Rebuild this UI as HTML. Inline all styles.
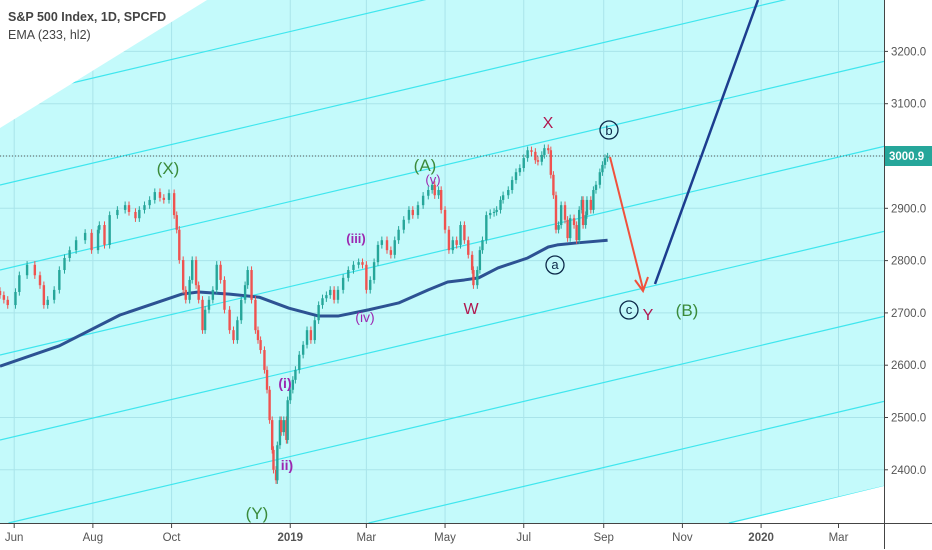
<!DOCTYPE html>
<html><head><meta charset="utf-8"><style>
html,body{margin:0;padding:0;width:932px;height:550px;overflow:hidden;background:#fff;font-family:"Liberation Sans",sans-serif}
svg{display:block;position:absolute;left:0;top:0}
</style></head><body>
<svg id="chart" width="932" height="550" viewBox="0 0 932 550" xmlns="http://www.w3.org/2000/svg">
<rect x="0" y="0" width="884" height="523" fill="#c4fafb"/>
<g id="grid"></g>
<g id="fan"></g>
<polygon points="0,0 207,0 0,128" fill="#fff"/>
<polygon points="733,523 884,486 884,523" fill="#fff"/>
<line x1="0" y1="156" x2="884" y2="156" stroke="#555" stroke-width="1" stroke-dasharray="1,2"/>
<g id="ema"></g>
<g id="candles"></g>
<g id="annot">
<line x1="610" y1="157" x2="643" y2="289" stroke="#f0513c" stroke-width="2"/>
<polyline points="635,280 643,291 648,277" fill="none" stroke="#f0513c" stroke-width="2"/>
<line x1="655" y1="284" x2="758" y2="0" stroke="#1c3d8f" stroke-width="2.5"/>
<text x="168" y="174" font-size="17" fill="#3a8a3a" text-anchor="middle">(X)</text>
<text x="425" y="171" font-size="17" fill="#3a8a3a" text-anchor="middle">(A)</text>
<text x="433" y="184" font-size="13" fill="#9c27b0" text-anchor="middle">(v)</text>
<text x="356" y="243" font-size="13" fill="#9c27b0" font-weight="bold" text-anchor="middle">(iii)</text>
<text x="365" y="322" font-size="14" fill="#9c27b0" text-anchor="middle">(iv)</text>
<text x="285" y="388" font-size="14" fill="#9c27b0" font-weight="bold" text-anchor="middle">(i)</text>
<text x="287" y="470" font-size="14" fill="#9c27b0" font-weight="bold" text-anchor="middle">ii)</text>
<text x="257" y="519" font-size="17" fill="#3a8a3a" text-anchor="middle">(Y)</text>
<text x="471" y="314" font-size="16" fill="#b0174f" text-anchor="middle">W</text>
<text x="548" y="128" font-size="16" fill="#b0174f" text-anchor="middle">X</text>
<text x="648" y="320" font-size="16" fill="#b0174f" text-anchor="middle">Y</text>
<text x="687" y="316" font-size="17" fill="#3a8a3a" text-anchor="middle">(B)</text>
<g><circle cx="609" cy="130" r="9" fill="none" stroke="#0d2a4a" stroke-width="1.3"/><text x="609" y="135" font-size="13" fill="#0d2a4a" text-anchor="middle">b</text></g>
<g><circle cx="555" cy="265" r="9" fill="none" stroke="#0d2a4a" stroke-width="1.3"/><text x="555" y="269" font-size="13" fill="#0d2a4a" text-anchor="middle">a</text></g>
<g><circle cx="629" cy="310" r="9" fill="none" stroke="#0d2a4a" stroke-width="1.3"/><text x="629" y="314" font-size="13" fill="#0d2a4a" text-anchor="middle">c</text></g>
</g>
<text x="8" y="21" font-size="12.5" font-weight="bold" fill="#444">S&amp;P 500 Index, 1D, SPCFD</text>
<text x="8" y="39" font-size="12.5" fill="#444">EMA (233, hl2)</text>
<rect x="884" y="0" width="48" height="549" fill="#fff"/>
<rect x="0" y="523" width="884" height="26" fill="#fff"/>
<line x1="884.5" y1="0" x2="884.5" y2="549" stroke="#444"/>
<line x1="0" y1="523.5" x2="932" y2="523.5" stroke="#444"/>
<g id="axes"></g>
<g><rect x="885" y="146" width="47" height="20" fill="#26a69a"/><text x="889" y="160" font-size="11.5" font-weight="bold" fill="#fff">3000.9</text></g>
</svg>
<script>
const days=[0,3,6,12,15,21,27,31,34,37,42,46,50,54,59,66,71,76,77,81,85,91,97,100,105,108,112,116,120,124,127,131,135,137,139,142,144,147,149,152,154,157,159,162,165,168,171,174,178,181,184,187,190,192,195,198,200,202,205,207,209,211,212,214,215,217,218,220,222,223,225,227,229,232,235,238,241,244,247,250,253,256,259,262,266,270,274,278,281,284,287,290,293,296,300,303,306,309,313,317,320,324,328,332,335,337,340,342,345,348,351,354,357,360,363,366,367,370,372,374,377,380,383,385,388,390,394,397,400,403,406,409,412,415,417,420,422,425,427,429,431,433,435,438,440,442,445,447,449,451,452,454,455,458,460,462,465,467,469,471];
const closes=[2734,2725,2715,2740,2772,2792,2772,2753,2715,2725,2744,2782,2805,2820,2839,2853,2820,2859,2868,2830,2887,2897,2906,2893,2881,2897,2906,2916,2931,2920,2916,2929,2887,2859,2801,2744,2725,2763,2801,2753,2725,2667,2706,2725,2744,2792,2763,2706,2667,2648,2686,2725,2753,2782,2725,2667,2648,2629,2591,2553,2495,2438,2400,2380,2447,2495,2472,2495,2457,2533,2553,2572,2591,2620,2639,2667,2648,2686,2715,2728,2734,2744,2725,2744,2767,2782,2792,2797,2792,2744,2763,2797,2830,2839,2820,2811,2839,2859,2878,2897,2887,2906,2924,2935,2945,2925,2935,2897,2859,2820,2839,2830,2868,2839,2811,2782,2753,2782,2820,2839,2887,2891,2893,2897,2916,2925,2935,2954,2969,2977,2996,3011,3008,2992,2989,3002,3015,3011,2964,2925,2859,2868,2906,2878,2843,2881,2868,2839,2897,2916,2868,2887,2916,2897,2935,2945,2969,2983,2996,2999];
const emaDays=[0,46,93,141,154,178,201,224,247,262,286,309,332,347,360,371,386,409,425,432,448,471];
const emaVals=[2598,2637,2696,2736,2740,2736,2730,2709,2694,2694,2706,2719,2744,2759,2763,2767,2786,2805,2826,2830,2834,2839];
const xTickDays=[11,72,133,225,284,345,406,468,529,590,650];
const xTickLabels=["Jun","Aug","Oct","2019","Mar","May","Jul","Sep","Nov","2020","Mar"];
const yTicks=[2400,2500,2600,2700,2800,2900,3100,3200];
const gridPrices=[2400,2500,2600,2700,2800,2900,3000,3100,3200];

const NS="http://www.w3.org/2000/svg";
const xS=d=>d*1.29;
const yS=p=>156-(p-3000)*0.523;
function mk(tag,attrs,parent){const e=document.createElementNS(NS,tag);for(const k in attrs)e.setAttribute(k,attrs[k]);parent.appendChild(e);return e;}

const grid=document.getElementById('grid');
gridPrices.forEach(p=>{const l=mk('line',{x1:0,x2:884,y1:yS(p),y2:yS(p),stroke:'#a9e4ea','stroke-width':1},grid);

});
xTickDays.forEach(d=>{const l=mk('line',{x1:xS(d),x2:xS(d),y1:0,y2:523,stroke:'#a9e4ea','stroke-width':1},grid);

});

const fan=document.getElementById('fan');
for(let k=0;k<8;k++){const b=100+85*k;const xs=Math.max(0,(b-523)/0.236);const l=mk('line',{x1:xs,y1:b-0.236*xs,x2:884,y2:b-0.236*884,stroke:'#3fe6ee','stroke-width':1.2},fan);

}

const ema=document.getElementById('ema');
const pl=mk('polyline',{points:emaDays.map((d,i)=>xS(d)+','+yS(emaVals[i])).join(' '),fill:'none',stroke:'#2d5293','stroke-width':3,'stroke-linejoin':'round'},ema);



const cg=document.getElementById('candles');
closes.forEach((c,i)=>{const o=i?closes[i-1]:c+8;const up=c>=o;const col=up?'#26a69a':'#ef5350';
const x=xS(days[i]);const hi=Math.max(o,c)+7,lo=Math.min(o,c)-7;
const g=mk('g',{},cg);


mk('line',{x1:x,x2:x,y1:yS(hi),y2:yS(lo),stroke:col,'stroke-width':1},g);
const top=yS(Math.max(o,c)),bot=yS(Math.min(o,c));
mk('rect',{x:x-1.2,y:top,width:2.4,height:Math.max(1,bot-top),fill:col},g);});

const ax=document.getElementById('axes');
yTicks.forEach(p=>{const t=mk('text',{x:891,y:yS(p)+4,'font-size':11.5,fill:'#555'},ax);t.textContent=p.toFixed(1);


mk('line',{x1:884,x2:888,y1:yS(p),y2:yS(p),stroke:'#444'},ax);});
xTickDays.forEach((d,i)=>{const t=mk('text',{x:xS(d),y:541,'font-size':11.5,fill:'#555','text-anchor':'middle','font-weight':(xTickLabels[i].length===4?'bold':'normal')},ax);t.textContent=xTickLabels[i];


mk('line',{x1:xS(d),x2:xS(d),y1:523,y2:528,stroke:'#444'},ax);});
</script>
</body></html>
